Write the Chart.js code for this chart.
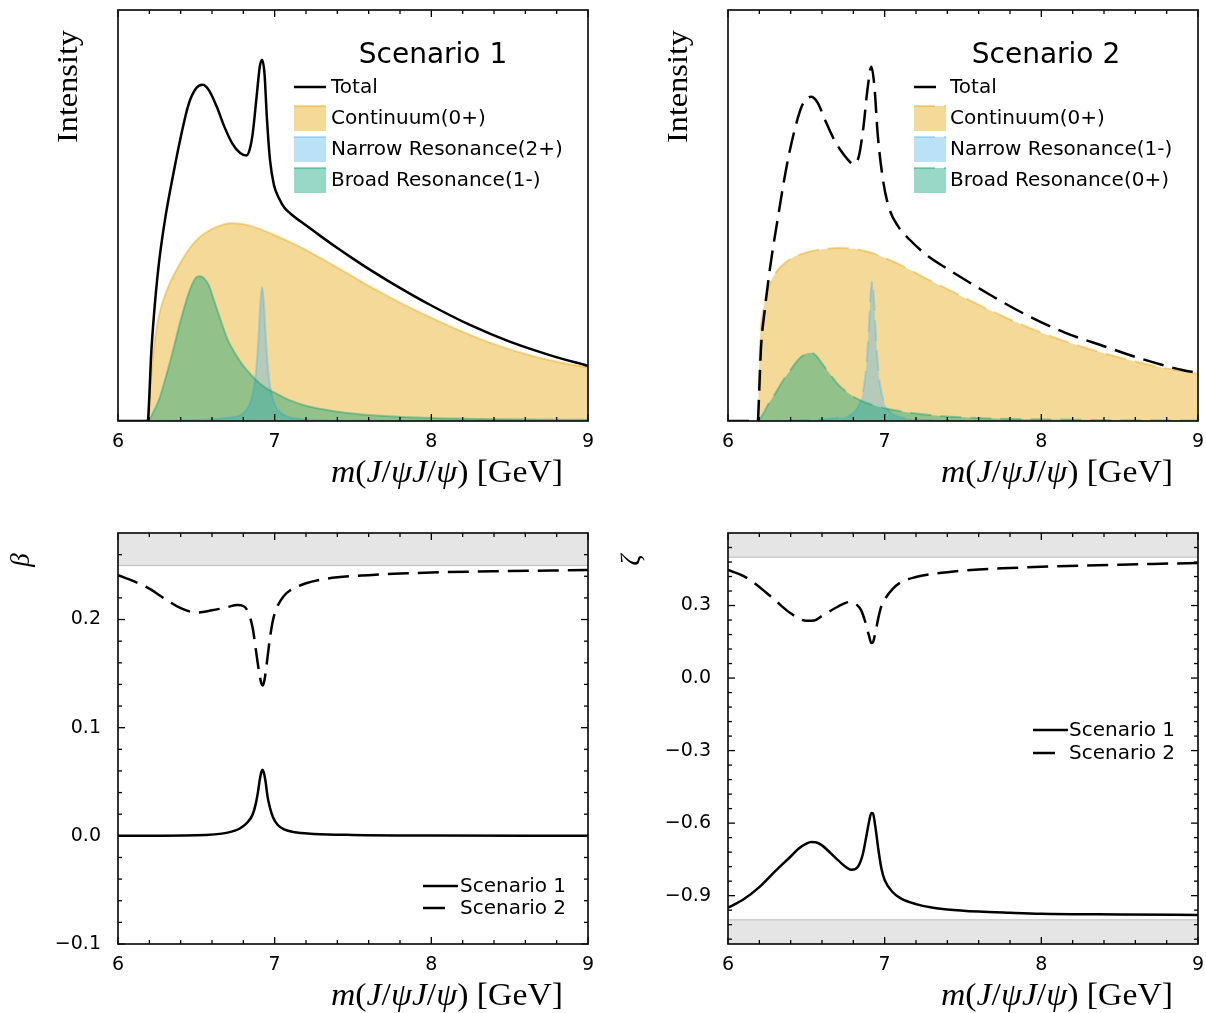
<!DOCTYPE html>
<html><head><meta charset="utf-8">
<script src="https://cdn.jsdelivr.net/npm/chart.js@4.4.0/dist/chart.umd.min.js"></script>
<style>
html,body{margin:0;padding:0;background:#fff;}
body{width:1206px;height:1013px;position:relative;overflow:hidden;}
canvas{position:absolute;left:0;top:0;}
</style></head><body>
<canvas id="c1" width="1206" height="1013"></canvas>
<canvas id="c2" width="1206" height="1013"></canvas>
<canvas id="c3" width="1206" height="1013"></canvas>
<canvas id="c4" width="1206" height="1013"></canvas>
<script>
// ---------------- tick values ----------------
const massTicks = [6, 7, 8, 9];
const massMinorTicks = [6.2,6.4,6.6,6.8,7.2,7.4,7.6,7.8,8.2,8.4,8.6,8.8];
const betaTicks = [-0.1, 0, 0.1, 0.2];
const betaMinorTicks = [-0.08,-0.06,-0.04,-0.02,0.02,0.04,0.06,0.08,0.12,0.14,0.16,0.18,0.22,0.24,0.26];
const zetaTicks = [-0.9, -0.6, -0.3, 0, 0.3];
const zetaMinorTicks = [-1.08,-1.02,-0.96,-0.84,-0.78,-0.72,-0.66,-0.54,-0.48,-0.42,-0.36,-0.24,-0.18,-0.12,-0.06,0.06,0.12,0.18,0.24,0.36,0.42,0.48,0.54];

// ---------------- Scenario 1 intensity ----------------
const s1TotalMass = [6.00,6.19,6.20,6.21,6.23,6.26,6.30,6.35,6.40,6.45,6.50,6.54,6.58,6.63,6.68,6.73,6.78,6.82,6.84,6.86,6.885,6.905,6.92,6.935,6.95,6.97,6.995,7.03,7.06,7.10,7.20,7.30,7.40,7.50,7.60,7.75,8.00,8.25,8.50,8.75,9.00];
const s1TotalInt  = [0,0,0.06,0.15,0.26,0.38,0.49,0.595,0.69,0.77,0.81,0.818,0.805,0.765,0.715,0.675,0.652,0.646,0.66,0.70,0.79,0.862,0.879,0.846,0.74,0.636,0.575,0.54,0.52,0.505,0.476,0.448,0.421,0.395,0.37,0.335,0.281,0.233,0.193,0.161,0.134];
const s1ContMass = [6.00,6.195,6.20,6.21,6.23,6.255,6.29,6.33,6.38,6.43,6.48,6.53,6.59,6.65,6.72,6.80,6.90,7.00,7.10,7.20,7.30,7.40,7.50,7.60,7.70,7.80,7.90,8.00,8.20,8.40,8.60,8.80,9.00];
const s1ContInt  = [0,0,0.05,0.10,0.18,0.245,0.295,0.335,0.372,0.405,0.431,0.45,0.465,0.475,0.481,0.479,0.468,0.452,0.435,0.416,0.395,0.373,0.351,0.329,0.308,0.288,0.269,0.251,0.217,0.187,0.163,0.144,0.13];
const s1NarrowMass = [6.00,6.195,6.40,6.60,6.70,6.77,6.82,6.85,6.87,6.88,6.89,6.90,6.91,6.92,6.93,6.94,6.95,6.96,6.97,6.99,7.02,7.07,7.17,7.32,7.60,9.00];
const s1NarrowInt  = [0,0,0.002,0.004,0.008,0.0125,0.027,0.051,0.086,0.117,0.163,0.226,0.293,0.326,0.293,0.226,0.163,0.117,0.086,0.051,0.027,0.0125,0.0047,0.0018,0.0008,0.0002];
const s1BroadMass = [6.00,6.195,6.22,6.26,6.30,6.35,6.40,6.45,6.49,6.52,6.55,6.58,6.62,6.66,6.70,6.75,6.80,6.85,6.90,6.95,7.00,7.10,7.20,7.30,7.45,7.70,8.00,8.50,9.00];
const s1BroadInt  = [0,0,0.018,0.05,0.10,0.17,0.245,0.31,0.345,0.352,0.347,0.33,0.285,0.24,0.198,0.163,0.134,0.112,0.093,0.079,0.069,0.05,0.037,0.029,0.02,0.012,0.007,0.004,0.003];

// ---------------- Scenario 2 intensity ----------------
const s2TotalMass = [6.00,6.19,6.20,6.21,6.235,6.27,6.32,6.37,6.42,6.47,6.50,6.53,6.57,6.62,6.67,6.72,6.765,6.80,6.835,6.865,6.89,6.915,6.935,6.955,6.99,7.025,7.085,7.16,7.28,7.41,7.65,7.90,8.15,8.40,8.65,8.90,9.00];
const s2TotalInt  = [0,0,0.08,0.174,0.271,0.377,0.498,0.611,0.70,0.765,0.783,0.789,0.776,0.732,0.69,0.658,0.636,0.625,0.644,0.717,0.806,0.862,0.812,0.70,0.585,0.522,0.474,0.441,0.40,0.368,0.312,0.259,0.215,0.182,0.15,0.124,0.117];
const s2ContMass = [6.00,6.19,6.197,6.205,6.22,6.25,6.30,6.35,6.40,6.50,6.60,6.70,6.80,6.90,7.00,7.10,7.20,7.30,7.40,7.50,7.60,7.80,8.00,8.20,8.40,8.60,8.80,9.00];
const s2ContInt  = [0,0,0.1,0.2,0.26,0.315,0.358,0.38,0.395,0.41,0.418,0.421,0.419,0.411,0.397,0.38,0.36,0.34,0.321,0.302,0.283,0.247,0.215,0.188,0.165,0.145,0.128,0.115];
const s2NarrowMass = [6.00,6.195,6.40,6.60,6.70,6.77,6.82,6.85,6.87,6.88,6.89,6.90,6.91,6.92,6.93,6.94,6.95,6.96,6.97,6.99,7.02,7.07,7.17,7.32,7.60,9.00];
const s2NarrowInt  = [0,0,0.002,0.004,0.008,0.013,0.028,0.053,0.09,0.122,0.17,0.236,0.306,0.34,0.306,0.236,0.17,0.122,0.09,0.053,0.028,0.013,0.005,0.002,0.0008,0.0002];
const s2BroadMass = [6.00,6.19,6.22,6.25,6.30,6.35,6.40,6.45,6.50,6.53,6.56,6.60,6.65,6.70,6.76,6.82,6.90,7.00,7.10,7.20,7.30,7.50,7.70,8.00,8.50,9.00];
const s2BroadInt  = [0,0,0.015,0.036,0.066,0.098,0.125,0.15,0.164,0.166,0.16,0.14,0.115,0.09,0.07,0.055,0.042,0.031,0.024,0.018,0.014,0.009,0.006,0.004,0.002,0.001];

// ---------------- beta ----------------
const betaS1Mass = [6.00,6.50,6.70,6.78,6.83,6.86,6.88,6.895,6.905,6.915,6.922,6.93,6.94,6.955,6.97,6.99,7.02,7.06,7.12,7.25,7.50,8.00,9.00];
const betaS1 = [0,0.0005,0.003,0.007,0.013,0.02,0.03,0.042,0.052,0.059,0.061,0.059,0.052,0.036,0.026,0.017,0.01,0.006,0.0035,0.0018,0.0008,0.0003,0.0001];
const betaS2Mass = [6.00,6.10,6.20,6.30,6.40,6.50,6.60,6.70,6.76,6.80,6.83,6.86,6.88,6.90,6.915,6.925,6.935,6.95,6.97,6.99,7.02,7.06,7.10,7.20,7.30,7.40,7.60,7.80,8.00,8.50,9.00];
const betaS2 = [0.241,0.2355,0.2285,0.219,0.2105,0.2065,0.2085,0.2115,0.2135,0.2125,0.207,0.192,0.172,0.152,0.141,0.139,0.144,0.16,0.183,0.2,0.213,0.222,0.227,0.2335,0.237,0.239,0.241,0.2425,0.2435,0.2448,0.2458];

// ---------------- zeta ----------------
const zetaS1Mass = [6.00,6.10,6.20,6.30,6.40,6.45,6.50,6.53,6.56,6.60,6.70,6.79,6.83,6.86,6.88,6.90,6.915,6.925,6.94,6.96,6.98,7.00,7.05,7.10,7.20,7.30,7.40,7.60,7.80,8.00,8.50,9.00];
const zetaS1 = [-0.95,-0.915,-0.865,-0.80,-0.738,-0.706,-0.685,-0.678,-0.679,-0.692,-0.752,-0.793,-0.78,-0.73,-0.665,-0.595,-0.558,-0.56,-0.612,-0.71,-0.79,-0.835,-0.885,-0.91,-0.935,-0.949,-0.957,-0.966,-0.971,-0.975,-0.978,-0.98];
const zetaS2Mass = [6.00,6.10,6.20,6.30,6.40,6.50,6.55,6.60,6.70,6.76,6.79,6.82,6.85,6.875,6.90,6.915,6.925,6.94,6.96,6.98,7.00,7.05,7.10,7.20,7.30,7.40,7.60,7.80,8.00,8.50,9.00];
const zetaS2 = [0.447,0.422,0.377,0.322,0.268,0.237,0.238,0.257,0.295,0.313,0.315,0.305,0.28,0.235,0.175,0.145,0.148,0.185,0.25,0.30,0.325,0.368,0.395,0.418,0.43,0.438,0.449,0.455,0.46,0.469,0.476];

// ---------------- physical bounds ----------------
const boundMass = [6, 9];
const betaUpperBound = [0.25, 0.25];
const zetaUpperBound = [0.5, 0.5];
const zetaLowerBound = [-1, -1];

// ---------------- helpers ----------------
const W = 1206, H = 1013;
const pts = (xs, ys) => xs.map((x, i) => ({x: x, y: ys[i]}));
const ORANGE = 'rgba(230,159,0,0.4)', BLUE = 'rgba(86,180,233,0.4)', GREEN = 'rgba(0,158,115,0.4)';
const DASH = [21, 9];
Chart.defaults.font.family = '"DejaVu Sans"';
Chart.defaults.color = '#000';

function line(ctx, x1, y1, x2, y2) { ctx.beginPath(); ctx.moveTo(x1, y1); ctx.lineTo(x2, y2); ctx.stroke(); }

function drawRich(ctx, segs, size, x, y, align, targetW, rot, baseline) {
  ctx.save();
  ctx.translate(x, y);
  if (rot) ctx.rotate(rot);
  let w = 0; const ws = [];
  for (const [t, it] of segs) { ctx.font = (it ? 'italic ' : '') + size + 'px "Liberation Serif"'; const m = ctx.measureText(t).width; ws.push(m); w += m; }
  const sx = targetW ? targetW / w : 1;
  ctx.scale(sx, 1);
  let cx = align === 'right' ? -w : align === 'center' ? -w / 2 : 0;
  ctx.textBaseline = baseline || 'alphabetic'; ctx.textAlign = 'left'; ctx.fillStyle = '#000';
  segs.forEach(([t, it], i) => { ctx.font = (it ? 'italic ' : '') + size + 'px "Liberation Serif"'; ctx.fillText(t, cx, 0); cx += ws[i]; });
  ctx.restore();
}

const massLabel = [['m', true], ['(', false], ['J', true], ['/', false], ['\u03C8', true], ['J', true], ['/', false], ['\u03C8', true], [')', false], [' [GeV]', false]];

const decor = {
  id: 'decor',
  afterDraw(chart, args, o) {
    const ctx = chart.ctx, a = chart.chartArea, xs = chart.scales.x, ys = chart.scales.y;
    ctx.save();
    ctx.strokeStyle = '#000'; ctx.lineWidth = 1.3; ctx.setLineDash([]);
    for (const [vals, len] of [[massTicks, 7], [massMinorTicks, 4]]) {
      for (const v of vals) {
        const px = xs.getPixelForValue(v);
        line(ctx, px, a.bottom, px, a.bottom - len);
        line(ctx, px, a.top, px, a.top + len);
      }
    }
    if (o.yMajor) {
      for (const [vals, len] of [[o.yMajor, 7], [o.yMinor, 4]]) {
        for (const v of vals) {
          const py = ys.getPixelForValue(v);
          line(ctx, a.left, py, a.left + len, py);
          line(ctx, a.right, py, a.right - len, py);
        }
      }
    }
    ctx.lineWidth = 1.7; ctx.strokeStyle = '#111';
    ctx.strokeRect(a.left, a.top, a.right - a.left, a.bottom - a.top);
    // axis titles
    drawRich(ctx, massLabel, 31, a.right - 25, a.bottom + 61, 'right', 232, 0);
    if (o.yTitle === 'Intensity') {
      drawRich(ctx, [['Intensity', false]], 30, a.left - 41, a.top + 20, 'right', 113, -Math.PI / 2);
    } else {
      drawRich(ctx, [[o.yTitle, true]], 27, a.left - 96, a.top + 27, 'center', 0, -Math.PI / 2, 'middle');
    }
    // legend
    const L = o.legend;
    if (L.title) {
      ctx.font = '28px "DejaVu Sans"'; ctx.textAlign = 'center'; ctx.textBaseline = 'middle'; ctx.fillStyle = '#000';
      ctx.fillText(L.title, L.titleX, L.titleY);
    }
    ctx.font = '20px "DejaVu Sans"'; ctx.textAlign = 'left'; ctx.textBaseline = 'middle';
    L.items.forEach((idx, k) => {
      const ds = chart.data.datasets[idx];
      const y = L.y0 + k * L.pitch;
      if (ds.fill) {
        ctx.fillStyle = ds.backgroundColor; ctx.fillRect(L.hx, y - 12, 32, 25);
        ctx.strokeStyle = ds.borderColor; ctx.lineWidth = 2; ctx.setLineDash(ds.borderDash || []);
        line(ctx, L.hx, y - 12, L.hx + 32, y - 12);
        ctx.setLineDash([]);
      } else {
        ctx.strokeStyle = ds.borderColor; ctx.lineWidth = ds.borderWidth; ctx.setLineDash([]);
        line(ctx, L.hx, y, L.hx + (ds.borderDash ? L.dashLen : L.len), y);
      }
      ctx.fillStyle = '#000'; ctx.fillText(ds.label, L.tx, y + 1);
    });
    ctx.restore();
  }
};

function makeChart(id, area, cfg) {
  const yW = cfg.yTicks ? 70 : 0, xH = 40;
  return new Chart(document.getElementById(id), {
    type: 'line',
    data: {datasets: cfg.datasets},
    options: {
      responsive: false, animation: false, devicePixelRatio: 1, events: [],
      layout: {padding: {left: area.l - yW, right: W - area.r, top: area.t, bottom: H - area.b - xH}},
      plugins: {legend: {display: false}, tooltip: {enabled: false}, decor: cfg.decor},
      elements: {point: {radius: 0}, line: {borderWidth: 2.5, cubicInterpolationMode: 'monotone', borderJoinStyle: 'round'}},
      scales: {
        x: {type: 'linear', min: 6, max: 9, grid: {display: false, drawTicks: false}, border: {display: false},
            ticks: {padding: 10, color: '#000', font: {size: 19}, maxRotation: 0, autoSkip: false, callback: v => String(v)},
            afterBuildTicks: s => { s.ticks = massTicks.map(v => ({value: v})); },
            afterFit: s => { s.height = xH; s.paddingLeft = 0; s.paddingRight = 0; }},
        y: {type: 'linear', display: !!cfg.yTicks, min: cfg.yMin, max: cfg.yMax, grid: {display: false, drawTicks: false}, border: {display: false},
            ticks: {padding: 17, color: '#000', font: {size: 19}, autoSkip: false, callback: v => v.toFixed(1).replace('-', '\u2212')},
            afterBuildTicks: s => { if (cfg.yTicks) s.ticks = cfg.yTicks.map(v => ({value: v})); },
            afterFit: s => { if (cfg.yTicks) { s.width = yW; } s.paddingTop = 0; s.paddingBottom = 0; }}
      }
    },
    plugins: [decor]
  });
}

function intensitySets(sc, total, cont, narrow, broad, names) {
  const dash = sc === 2 ? DASH : undefined;
  return [
    {label: 'Total', data: total, borderColor: '#000', borderWidth: 2.5, borderDash: dash, fill: false, order: 0},
    {label: names[0], data: cont, borderColor: ORANGE, backgroundColor: ORANGE, borderWidth: 2, borderDash: dash, fill: 'origin', order: 3},
    {label: names[1], data: narrow, borderColor: BLUE, backgroundColor: BLUE, borderWidth: 2, borderDash: dash, fill: 'origin', order: 2},
    {label: names[2], data: broad, borderColor: GREEN, backgroundColor: GREEN, borderWidth: 2, borderDash: dash, fill: 'origin', order: 1}
  ];
}

makeChart('c1', {l: 118, r: 588, t: 10, b: 421}, {
  yMin: 0, yMax: 1,
  datasets: intensitySets(1, pts(s1TotalMass, s1TotalInt), pts(s1ContMass, s1ContInt), pts(s1NarrowMass, s1NarrowInt), pts(s1BroadMass, s1BroadInt),
    ['Continuum(0+)', 'Narrow Resonance(2+)', 'Broad Resonance(1-)']),
  decor: {yTitle: 'Intensity', legend: {title: 'Scenario 1', titleX: 433, titleY: 56, items: [0, 1, 2, 3], hx: 294, tx: 331, y0: 87, pitch: 31, len: 32, dashLen: 22}}
});

makeChart('c2', {l: 728, r: 1198, t: 10, b: 421}, {
  yMin: 0, yMax: 1,
  datasets: intensitySets(2, pts(s2TotalMass, s2TotalInt), pts(s2ContMass, s2ContInt), pts(s2NarrowMass, s2NarrowInt), pts(s2BroadMass, s2BroadInt),
    ['Continuum(0+)', 'Narrow Resonance(1-)', 'Broad Resonance(0+)']),
  decor: {yTitle: 'Intensity', legend: {title: 'Scenario 2', titleX: 1046, titleY: 56, items: [0, 1, 2, 3], hx: 914, tx: 950, y0: 87, pitch: 31, len: 32, dashLen: 22}}
});

makeChart('c3', {l: 118, r: 588, t: 533, b: 944}, {
  yMin: -0.1, yMax: 0.28, yTicks: betaTicks,
  datasets: [
    {label: 'Scenario 1', data: pts(betaS1Mass, betaS1), borderColor: '#000', borderWidth: 2.5, fill: false, order: 0},
    {label: 'Scenario 2', data: pts(betaS2Mass, betaS2), borderColor: '#000', borderWidth: 2.5, borderDash: DASH, fill: false, order: 1},
    {label: 'bound', data: pts(boundMass, betaUpperBound), borderColor: '#bdbdbd', backgroundColor: '#e5e5e5', borderWidth: 1, fill: 'end', order: 5, cubicInterpolationMode: 'default', tension: 0}
  ],
  decor: {yTitle: '\u03B2', yMajor: betaTicks, yMinor: betaMinorTicks, legend: {items: [0, 1], hx: 423, tx: 460, y0: 886, pitch: 22, len: 35, dashLen: 22}}
});

makeChart('c4', {l: 728, r: 1198, t: 533, b: 944}, {
  yMin: -1.1, yMax: 0.6, yTicks: zetaTicks,
  datasets: [
    {label: 'Scenario 1', data: pts(zetaS1Mass, zetaS1), borderColor: '#000', borderWidth: 2.5, fill: false, order: 0},
    {label: 'Scenario 2', data: pts(zetaS2Mass, zetaS2), borderColor: '#000', borderWidth: 2.5, borderDash: DASH, fill: false, order: 1},
    {label: 'upper', data: pts(boundMass, zetaUpperBound), borderColor: '#bdbdbd', backgroundColor: '#e5e5e5', borderWidth: 1, fill: 'end', order: 5, cubicInterpolationMode: 'default', tension: 0},
    {label: 'lower', data: pts(boundMass, zetaLowerBound), borderColor: '#bdbdbd', backgroundColor: '#e5e5e5', borderWidth: 1, fill: 'start', order: 5, cubicInterpolationMode: 'default', tension: 0}
  ],
  decor: {yTitle: '\u03B6', yMajor: zetaTicks, yMinor: zetaMinorTicks, legend: {items: [0, 1], hx: 1033, tx: 1069, y0: 730, pitch: 23, len: 35, dashLen: 22}}
});
</script>
</body></html>
